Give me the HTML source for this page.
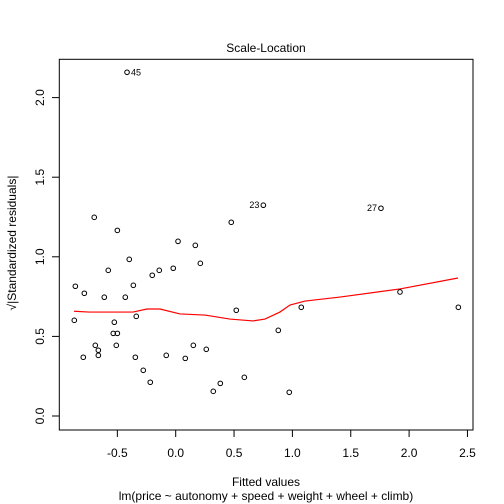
<!DOCTYPE html>
<html><head><meta charset="utf-8"><style>body{margin:0;background:#fff}svg{display:block;font-family:"Liberation Sans",Arial,sans-serif}</style></head>
<body>
<svg id="chart" width="504" height="504">
<rect x="59.3" y="59.3" width="413.7" height="370.7" fill="none" stroke="#000"/>
<text x="266" y="52" font-size="12" text-anchor="middle">Scale-Location</text>
<text x="266" y="486" font-size="12" text-anchor="middle">Fitted values</text>
<text x="266" y="500" font-size="12" text-anchor="middle">lm(price ~ autonomy + speed + weight + wheel + climb)</text>
<text transform="translate(16,243) rotate(-90)" font-size="12" text-anchor="middle">√|Standardized residuals|</text>
<g id="axes"></g><g id="marks"></g>
</svg>
<script>
const xs=[-0.698,-0.500,0.020,0.168,0.476,0.751,-0.398,-0.578,-0.141,-0.201,-0.021,0.211,-0.860,-0.783,-0.363,-0.612,-0.432,0.519,-0.869,-0.338,-0.526,-0.535,-0.500,0.879,-0.689,-0.509,0.151,0.262,-0.663,-0.663,-0.792,-0.346,-0.081,0.082,-0.278,-0.218,0.322,0.382,0.588,-0.417,1.759,1.922,2.422,1.076,0.973];
const ys=[1.248,1.166,1.097,1.072,1.217,1.324,0.984,0.915,0.915,0.884,0.928,0.959,0.815,0.771,0.821,0.746,0.746,0.664,0.601,0.626,0.589,0.519,0.519,0.538,0.444,0.444,0.444,0.419,0.413,0.381,0.369,0.369,0.381,0.362,0.287,0.212,0.155,0.205,0.243,2.159,1.305,0.779,0.683,0.683,0.149];
const labels={5:"23",39:"45",40:"27"};
const smoothX=[-0.871,-0.743,-0.366,-0.246,-0.135,0.037,0.251,0.465,0.662,0.765,0.893,0.979,1.108,1.408,1.922,2.419];
const smoothY=[0.658,0.653,0.653,0.672,0.672,0.641,0.634,0.609,0.597,0.609,0.653,0.697,0.722,0.747,0.798,0.867];
const xTicks=[-0.5,0,0.5,1,1.5,2,2.5];
const xTickLabels=["-0.5","0.0","0.5","1.0","1.5","2.0","2.5"];
const yTicks=[0,0.5,1,1.5,2];
const yTickLabels=["0.0","0.5","1.0","1.5","2.0"];
const X=v=>175.7+v*116.7, Y=v=>416-v*159.2;
const NS="http://www.w3.org/2000/svg";
function mk(t,a,p){const e=document.createElementNS(NS,t);for(const k in a)e.setAttribute(k,a[k]);p.appendChild(e);return e;}
const ax=document.getElementById('axes'), mg=document.getElementById('marks');
xTicks.forEach((v,i)=>{
 const l=mk('line',{x1:X(v),x2:X(v),y1:430,y2:437,stroke:'#000'},ax);
 
 
 const t=mk('text',{x:X(v),y:457,'font-size':12,'text-anchor':'middle'},ax);t.textContent=xTickLabels[i];
 
 
});
yTicks.forEach((v,i)=>{
 const l=mk('line',{x1:52,x2:59.3,y1:Y(v),y2:Y(v),stroke:'#000'},ax);
 
 
 const t=mk('text',{transform:`translate(44,${Y(v)}) rotate(-90)`,'font-size':12,'text-anchor':'middle'},ax);t.textContent=yTickLabels[i];
 
 
});
const pl=mk('polyline',{points:smoothX.map((v,i)=>X(v)+','+Y(smoothY[i])).join(' '),fill:'none',stroke:'#f00','stroke-width':1.2},mg);


xs.forEach((v,i)=>{
 const c=mk('circle',{cx:X(v),cy:Y(ys[i]),r:2.3,fill:'none',stroke:'#000','stroke-width':1},mg);
 
 
 if(labels[i]){
  const left=(i===5||i===40);
  const t=mk('text',{x:left?X(v)-4:X(v)+4,y:Y(ys[i])+3,'font-size':9,'text-anchor':left?'end':'start'},mg);t.textContent=labels[i];
  
  
 }
});
</script>
</body></html>
